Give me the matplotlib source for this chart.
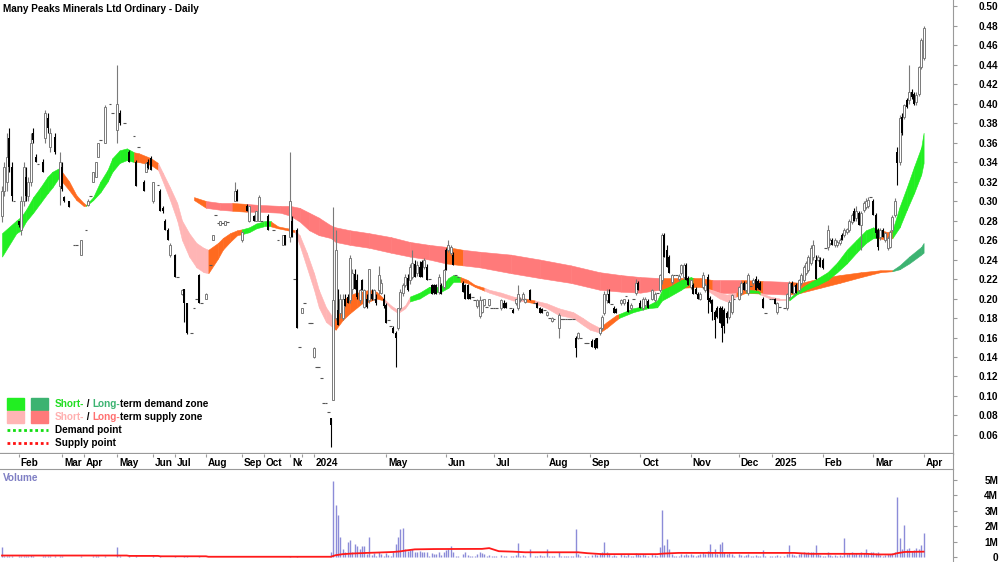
import numpy as np
import matplotlib
matplotlib.use("Agg")
import matplotlib.pyplot as plt
from matplotlib.patches import Rectangle
from matplotlib.lines import Line2D
from matplotlib.transforms import Bbox, TransformedBbox, blended_transform_factory

plt.rcParams['font.family'] = ['Liberation Sans', 'DejaVu Sans']

# Barras diárias em centavos: (abertura, máxima, mínima, fecho, volume em M)
# (preço, volume) = barra sem amplitude, None = dia sem negócio
jan23 = [(28.5, 31.5, 27.8, 31.0, 0.65), (31.0, 34.0, 30.5, 33.5, 0.08), (32.0, 37.0, 31.0, 34.5, 0.10),
         (36.5, 37.5, 33.0, 33.5, 0.06), (33.5, 34.0, 30.0, 30.5, 0.07), (30.0, 0.02), None]
feb23 = [(28.0, 28.0, 27.3, 27.5, 0.05), (27.0, 30.5, 26.5, 30.0, 0.08), (30.0, 34.0, 29.5, 33.5, 0.10),
         (32.5, 33.5, 30.0, 30.5, 0.06), (30.5, 32.5, 30.0, 32.0, 0.05), (32.0, 37.0, 31.5, 36.0, 0.12),
         (37.0, 37.5, 36.0, 36.3, 0.04), (34.5, 34.8, 34.0, 34.0, 0.03), (33.8, 0.01), None,
         (34.0, 34.3, 33.0, 33.0, 0.04), (36.5, 39.3, 36.0, 39.0, 0.10), (38.5, 39.0, 37.0, 37.5, 0.06),
         (35.5, 37.5, 35.0, 37.0, 0.05), None, (36.6, 37.0, 34.8, 35.0, 0.05), None,
         (31.5, 35.0, 29.6, 34.0, 0.08)]
mar23 = [(33.5, 34.0, 31.0, 31.2, 0.05), (30.4, 30.5, 29.9, 30.0, 0.03), None,
         (30.0, 30.0, 29.4, 29.4, 0.03), None, (25.5, 0.02), (25.5, 0.01), None,
         (24.5, 26.0, 24.5, 26.0, 0.04)]
apr23 = [None, (27.0, 0.01), (29.6, 30.2, 29.5, 30.0, 0.03), (30.5, 0.01), (32.0, 33.0, 32.0, 33.0, 0.04),
         (32.5, 34.0, 32.5, 34.0, 0.05), (34.5, 36.0, 34.5, 36.0, 0.05), (36.3, 0.01), None,
         (36.0, 39.8, 36.0, 39.6, 0.08), None, (40.0, 0.01), (39.0, 0.01), None]
may23 = [(37.3, 44.0, 36.0, 40.0, 0.65), (39.0, 39.3, 37.8, 38.0, 0.06), None, (38.0, 0.01), None,
         (35.0, 35.2, 34.0, 34.0, 0.04), None, (36.7, 0.01), (34.0, 34.2, 31.5, 31.5, 0.05), (35.5, 0.01),
         None, (32.0, 32.2, 31.0, 31.0, 0.03), (33.0, 34.0, 33.0, 33.9, 0.03),
         (34.0, 34.3, 33.3, 33.4, 0.02), (34.4, 34.6, 33.2, 33.2, 0.03)]
jun23 = [(30.0, 32.0, 29.8, 32.0, 0.04), None, (31.6, 0.01), (31.0, 31.2, 29.0, 29.0, 0.04),
         (29.3, 29.5, 28.8, 29.0, 0.02), (28.0, 28.2, 27.0, 27.0, 0.03), (27.0, 27.2, 26.0, 26.0, 0.03),
         (24.5, 25.7, 24.3, 25.5, 0.03), None]
jul23 = [(24.5, 24.6, 22.2, 22.2, 0.04), (22.2, 0.01), None, (20.5, 21.0, 20.4, 20.9, 0.02),
         (21.0, 21.0, 17.6, 19.5, 0.05), (19.5, 19.5, 16.4, 16.5, 0.05), None, (16.5, 0.01),
         (19.0, 0.01), (20.0, 0.01), (22.4, 22.5, 19.5, 19.5, 0.04), (19.5, 0.01), None]
aug23 = [(20.0, 20.6, 19.9, 20.5, 0.02), None, (23.4, 0.01), (26.0, 26.5, 26.0, 26.5, 0.02), (28.6, 0.01),
         (27.7, 0.01), (27.5, 28.0, 27.5, 28.0, 0.01), (27.7, 0.01), (27.5, 28.0, 27.5, 28.0, 0.01),
         (27.8, 0.01), None, None, (30.0, 32.0, 30.0, 31.0, 0.03), (31.0, 31.2, 30.0, 30.0, 0.02), None]
sep23 = [(26.0, 26.8, 25.8, 26.8, 0.03), None, (29.5, 29.7, 29.0, 29.0, 0.02),
         (28.0, 29.5, 27.8, 29.5, 0.02), None, (28.5, 28.6, 28.0, 28.0, 0.02),
         (28.0, 29.0, 28.0, 29.0, 0.02), (28.0, 30.6, 28.0, 30.4, 0.03), (28.0, 0.01)]
oct23 = [None, None, (28.5, 28.7, 27.0, 27.0, 0.02), None, (27.0, 0.01), None, (26.0, 0.01), None,
         (25.5, 26.5, 25.5, 26.5, 0.02), (26.5, 26.5, 25.5, 25.5, 0.02), None]
nov23 = [(26.3, 35.0, 25.8, 30.0, 0.05), (28.0, 28.5, 26.3, 26.3, 0.03), (22.0, 0.01),
         (27.0, 27.2, 17.0, 17.0, 0.05), (15.0, 0.01)]
dec23 = [(18.5, 19.0, 18.5, 19.0, 0.02), (19.5, 0.01), None, (17.5, 0.01), (17.5, 0.01)]
jan24 = [(14.0, 15.0, 13.9, 14.9, 0.02), (13.0, 0.01), (13.0, 0.01), (11.8, 0.01), (9.3, 0.01),
         (9.3, 0.01), (8.4, 0.01), (7.7, 7.7, 4.8, 7.0, 0.30), (9.6, 29.4, 9.6, 19.8, 4.95),
         (18.0, 27.0, 17.8, 25.0, 3.40), (18.8, 21.0, 17.3, 17.3, 2.70), (18.5, 20.5, 18.0, 20.0, 1.30),
         (18.0, 20.5, 17.8, 20.0, 0.50), (20.0, 20.5, 19.2, 19.2, 0.30), (20.2, 20.5, 19.5, 19.5, 1.00),
         (19.8, 24.5, 19.5, 24.2, 1.10), (21.0, 23.0, 20.5, 22.6, 0.30), (22.5, 23.0, 21.0, 21.0, 0.85),
         (21.9, 22.5, 20.0, 20.2, 0.70), (19.8, 21.0, 19.5, 20.9, 0.55), (21.9, 22.0, 20.9, 20.9, 0.70),
         (19.1, 21.0, 19.0, 20.9, 0.70), (20.0, 20.5, 19.0, 19.1, 0.20), (19.8, 23.0, 19.5, 23.0, 1.27),
         (20.5, 21.0, 19.8, 20.0, 0.15), (20.0, 21.0, 19.8, 20.9, 0.25), (20.0, 20.5, 19.3, 19.5, 0.10),
         (20.9, 23.3, 20.5, 22.4, 0.30), (20.6, 22.0, 20.5, 21.6, 0.20), (20.0, 20.5, 19.0, 19.2, 0.10)]
may24 = [(19.3, 19.5, 17.5, 17.5, 0.25), (17.8, 0.15), (17.2, 0.10), (17.0, 17.2, 16.5, 16.5, 0.30),
         (16.5, 16.7, 13.0, 16.0, 0.85), (17.0, 19.0, 16.8, 19.0, 1.30), (19.0, 21.0, 18.8, 20.7, 1.85),
         (20.6, 21.6, 20.3, 21.4, 1.90), (21.4, 22.5, 21.2, 22.2, 0.50), (22.1, 22.5, 20.8, 20.9, 0.40),
         (21.9, 23.5, 21.5, 23.2, 0.45), (22.2, 25.0, 22.0, 23.6, 0.50), (23.5, 24.0, 22.2, 22.2, 0.35),
         (22.6, 23.8, 22.3, 23.4, 0.30), (23.2, 23.8, 22.2, 22.2, 0.40), (23.7, 24.0, 22.2, 22.2, 0.30),
         (23.2, 24.2, 23.0, 24.0, 0.35), (23.2, 23.5, 21.9, 21.9, 0.30), (22.0, 0.10),
         (21.4, 21.5, 20.5, 20.5, 0.25), (21.4, 21.5, 20.5, 20.6, 0.20), (21.4, 21.5, 20.5, 20.5, 0.20),
         (20.7, 22.5, 20.5, 22.2, 0.30), (21.4, 21.6, 20.5, 20.5, 0.15), (21.2, 23.0, 21.0, 22.9, 0.30)]
jun24 = [(25.0, 25.2, 22.9, 22.9, 0.45), (25.0, 26.0, 24.8, 25.5, 0.50), (24.7, 25.5, 24.5, 25.3, 0.70),
         (24.5, 24.8, 23.4, 23.4, 0.35), (22.4, 0.10), (22.2, 0.10), None, (21.6, 21.8, 20.7, 20.7, 0.20),
         (21.4, 21.5, 20.0, 20.0, 0.30), (21.4, 21.5, 20.0, 20.0, 0.15), (20.5, 20.6, 20.0, 20.0, 0.10),
         (20.2, 0.05), (19.8, 0.05), (19.2, 20.0, 19.0, 19.8, 0.20), (18.2, 20.3, 18.0, 19.8, 0.30),
         (18.6, 20.0, 18.5, 19.8, 0.25), (19.3, 20.0, 19.2, 20.0, 0.20), (19.1, 0.05),
         (19.3, 20.0, 19.2, 20.0, 0.15), (19.0, 0.05)]
jul24 = [(19.0, 0.05), (19.0, 0.05), None, (19.0, 20.0, 18.8, 19.8, 0.15), (19.5, 19.8, 19.0, 19.0, 0.10),
         (19.5, 19.6, 19.0, 19.0, 0.10), None, (19.0, 0.05), (18.8, 19.0, 18.5, 18.5, 0.10),
         (19.5, 20.0, 19.3, 20.0, 0.15), (19.0, 21.4, 18.8, 20.5, 0.90), (19.8, 20.2, 19.6, 20.0, 0.10),
         (20.0, 20.7, 19.8, 20.5, 0.15), (19.6, 20.0, 19.5, 19.9, 0.10), None,
         (20.9, 21.0, 19.8, 19.8, 0.55), None, (19.5, 0.05), (19.5, 19.6, 19.0, 19.0, 0.10),
         (19.0, 19.1, 18.5, 18.5, 0.15), (18.9, 19.0, 18.5, 18.5, 0.10), (18.8, 0.05)]
aug24 = [(18.3, 18.7, 18.2, 18.6, 0.50), (18.0, 0.05), (17.7, 18.1, 17.6, 18.0, 0.10), (17.9, 0.05), None,
         (17.0, 18.5, 16.0, 18.3, 0.30), (17.9, 0.05), (17.9, 0.05), (17.9, 0.05), (17.9, 0.05),
         (17.9, 0.05), (17.9, 0.05), (16.0, 16.2, 14.0, 14.9, 1.80), (16.0, 16.6, 15.8, 16.5, 0.20),
         (16.0, 0.05), None, (15.4, 0.05), (15.4, 0.05)]
sep24 = [None, (15.6, 15.8, 15.0, 15.0, 0.15), (15.7, 16.0, 14.8, 14.9, 0.20), (15.9, 16.0, 14.9, 14.9, 0.15),
         (16.5, 17.0, 16.3, 17.0, 0.25), (17.0, 18.3, 16.8, 18.1, 0.30), (18.5, 20.8, 18.3, 20.5, 0.95),
         (19.8, 21.0, 19.5, 20.5, 0.30), (20.5, 21.0, 19.5, 19.5, 0.20), (19.4, 0.05),
         (19.0, 19.2, 18.5, 18.5, 0.15), (18.9, 19.0, 18.5, 18.5, 0.10), None,
         (19.5, 20.0, 19.3, 19.8, 0.20), (19.5, 20.0, 19.3, 20.0, 0.15), (20.3, 0.05),
         (19.6, 20.0, 18.6, 18.6, 0.20), (19.0, 19.5, 18.8, 19.3, 0.10), (20.0, 0.05),
         (20.6, 22.0, 20.4, 21.6, 0.25), (21.6, 21.8, 20.9, 20.9, 0.20)]
oct24 = [(19.5, 19.8, 19.0, 19.0, 0.15), (19.0, 20.2, 18.8, 20.0, 0.20), (19.3, 20.2, 19.2, 20.0, 0.15),
         (19.7, 20.0, 19.0, 19.0, 0.10), None, (20.0, 21.0, 19.8, 20.9, 0.20), (19.8, 20.7, 19.6, 20.5, 0.15),
         (20.6, 0.05), (20.9, 22.5, 20.7, 22.4, 0.65), (21.9, 26.7, 21.5, 26.5, 3.05),
         (26.5, 26.7, 24.3, 24.3, 0.75), (25.0, 25.5, 23.2, 23.2, 1.20), (24.3, 24.5, 22.6, 22.6, 0.50),
         (21.7, 22.5, 21.5, 22.4, 0.20), (22.4, 0.05), (22.4, 0.05), (22.0, 22.5, 21.8, 22.3, 0.10),
         (22.6, 23.5, 22.4, 23.4, 0.20), (22.2, 23.6, 22.0, 23.4, 0.15), (23.4, 23.6, 21.9, 21.9, 0.20),
         (22.1, 22.3, 21.4, 21.4, 0.15)]
nov24 = [(21.2, 22.0, 21.0, 21.9, 0.20), (21.4, 21.6, 20.5, 20.5, 0.15), (21.0, 21.2, 20.5, 20.5, 0.10),
         (20.5, 20.7, 20.0, 20.0, 0.15), (20.0, 20.7, 19.8, 20.5, 0.20), (21.2, 22.7, 21.0, 22.4, 0.30),
         (20.9, 21.6, 20.7, 21.4, 0.20), (22.2, 22.5, 18.5, 19.8, 0.40), (20.1, 20.3, 19.5, 19.6, 0.85),
         (19.8, 20.0, 17.8, 18.6, 0.30), (18.6, 18.8, 16.0, 17.8, 0.50), (19.0, 19.2, 18.0, 18.1, 0.20),
         (19.0, 19.2, 17.5, 17.5, 0.85), (19.0, 19.2, 15.5, 17.0, 1.00), (18.8, 19.0, 16.5, 17.2, 0.30),
         (18.5, 18.7, 17.5, 18.0, 0.20), (18.1, 19.8, 17.9, 19.6, 0.25), (18.6, 20.5, 18.4, 20.4, 0.20),
         (20.0, 0.05), None]
dec24 = [(20.0, 21.3, 19.8, 21.2, 0.20), (20.6, 21.8, 20.4, 21.6, 0.15), (21.6, 21.8, 20.9, 20.9, 0.10),
         (20.9, 21.7, 20.7, 21.6, 0.15), (20.6, 22.6, 20.4, 22.4, 0.20), (21.3, 0.05),
         (21.6, 22.1, 21.4, 21.9, 0.10), (22.0, 22.3, 20.9, 20.9, 0.15), (21.8, 22.0, 21.0, 21.1, 0.10),
         (21.6, 21.8, 20.9, 20.9, 0.10), (20.0, 20.2, 19.0, 19.0, 0.45), (18.5, 0.05), None, (20.0, 0.05)]
jan25 = [(20.0, 0.05), (20.0, 20.1, 19.4, 19.4, 0.10), (18.6, 19.6, 18.4, 19.5, 0.15), (19.1, 0.05), None,
         (19.0, 0.05), (19.0, 20.6, 18.8, 20.5, 0.20), (20.2, 21.8, 20.0, 21.6, 0.80),
         (21.6, 21.8, 20.6, 20.6, 0.20), (20.6, 21.4, 20.4, 21.3, 0.15), (21.4, 21.6, 20.6, 20.6, 0.10),
         (20.9, 22.0, 20.7, 21.9, 0.20), (21.6, 22.6, 21.4, 22.4, 0.25), (21.9, 23.4, 21.7, 23.2, 0.30),
         (22.6, 23.8, 22.4, 23.6, 0.25), (22.9, 24.5, 22.7, 24.3, 0.30), (23.6, 25.5, 23.4, 25.2, 0.35),
         (24.3, 26.0, 24.0, 25.5, 0.30), (24.0, 24.5, 22.0, 22.0, 0.80), (24.0, 24.5, 23.8, 24.3, 0.20),
         (24.0, 24.3, 23.2, 23.2, 0.15)]
feb25 = [(23.9, 24.2, 23.0, 23.1, 0.10), (25.2, 0.05), (25.3, 27.5, 25.0, 27.0, 0.30),
         (25.7, 26.2, 25.5, 26.0, 0.15), (26.0, 26.2, 25.5, 25.5, 0.10), (25.5, 26.2, 25.3, 26.0, 0.15),
         (25.5, 26.0, 25.3, 25.8, 0.10), (25.7, 26.2, 25.5, 26.0, 0.15), (26.5, 26.7, 26.0, 26.0, 0.10),
         (26.5, 27.2, 26.3, 27.0, 1.25), (26.8, 27.2, 26.6, 27.1, 0.20), (27.0, 28.2, 26.8, 28.0, 0.25),
         (27.8, 28.8, 27.6, 28.6, 0.30), (29.0, 29.3, 28.0, 28.0, 0.20), (28.3, 29.5, 28.0, 29.0, 0.25),
         (28.8, 29.0, 27.5, 27.5, 0.20), (27.5, 29.0, 25.0, 28.8, 0.30), (29.1, 30.0, 28.9, 29.8, 0.25),
         (29.4, 30.3, 29.2, 30.0, 0.50), (29.5, 30.4, 29.3, 30.1, 0.20), (30.4, 0.35)]
mar25 = [(30.0, 30.2, 28.6, 28.6, 0.30), (28.6, 28.8, 26.2, 26.7, 0.25), (27.0, 27.2, 25.0, 25.3, 0.30),
         (26.3, 27.2, 26.0, 27.0, 0.15), (27.0, 27.2, 26.3, 26.3, 0.10), (26.0, 26.8, 25.8, 26.7, 0.15),
         (25.2, 26.4, 25.0, 26.2, 0.20), (25.3, 27.0, 25.2, 26.8, 0.20), (27.0, 28.6, 26.8, 28.4, 0.25),
         (28.6, 30.3, 28.4, 30.0, 0.30), (35.0, 35.5, 31.6, 33.9, 3.90), (34.0, 38.8, 33.7, 38.5, 1.25),
         (38.6, 39.0, 36.8, 37.0, 0.50), (38.6, 40.0, 38.4, 39.8, 2.05), (40.4, 40.6, 39.5, 39.6, 0.50),
         (40.4, 44.0, 40.0, 41.2, 0.60), (41.2, 41.5, 40.5, 40.7, 0.40), (41.0, 41.2, 39.8, 40.0, 0.45),
         (40.2, 41.2, 39.8, 40.9, 0.60), (41.0, 43.9, 40.8, 43.7, 0.55), (43.7, 46.7, 43.5, 46.5, 0.75)]
apr25 = [(44.7, 48.0, 44.5, 47.7, 1.55)]

months = [("", jan23), ("Feb", feb23), ("Mar", mar23), ("Apr", apr23), ("May", may23), ("Jun", jun23),
          ("Jul", jul23), ("Aug", aug23), ("Sep", sep23), ("Oct", oct23), ("Nov", nov23), ("", dec23),
          ("2024", jan24), ("May", may24), ("Jun", jun24), ("Jul", jul24), ("Aug", aug24), ("Sep", sep24),
          ("Oct", oct24), ("Nov", nov24), ("Dec", dec24), ("2025", jan25), ("Feb", feb25), ("Mar", mar25),
          ("Apr", apr25)]

# Faixa de curto prazo (barra, mínimo, máximo em centavos, zona)
st_bar = [0, 6, 8, 10, 13, 16, 19, 21, 24, 25,
          28, 31, 34, 35, 38, 41, 44, 46, 49, 52,
          55, 57, 62, 65, 67, 70, 73, 75, 78, 81,
          84, 86, 90, 92, 95, 98, 100, 103, 106, 109,
          112, 115, 119, 122, 124, 127, 130, 132, 135, 138,
          139, 142, 145, 148, 150, 153, 156, 159, 162, 165,
          168, 170, 174, 178, 183, 186, 188, 191, 194, 197,
          201, 203, 208, 213, 218, 222, 227, 232, 238, 242,
          245, 249, 252, 256, 257, 263, 269, 273, 275, 278,
          283, 287, 288, 290, 292, 294, 299, 302, 306, 310,
          315, 316, 320, 324, 328, 331, 335, 340, 344, 348,
          352, 356, 360, 363, 365, 369, 371, 374, 377, 380,
          383, 384]
st_lo = [24.3, 26.7, 27.0, 27.9, 28.8, 29.8, 30.8, 31.4, 32.5, 32.0,
         31.1, 30.1, 29.5, 29.5, 30.1, 30.9, 32.0, 33.0, 33.9, 34.2,
         34.0, 34.0, 33.7, 33.2, 32.0, 30.1, 28.0, 26.0, 24.3, 23.2,
         22.7, 22.6, 24.1, 25.0, 25.8, 26.5, 26.6, 26.8, 27.2, 27.4,
         27.4, 27.2, 27.0, 26.8, 25.5, 23.2, 20.9, 19.1, 17.6, 17.0,
         16.8, 17.8, 18.5, 19.1, 19.5, 19.7, 20.0, 19.8, 19.0, 18.5,
         19.0, 19.7, 20.0, 20.6, 20.7, 21.1, 21.7, 21.7, 21.6, 21.2,
         20.8, 20.6, 20.2, 19.8, 19.7, 19.5, 19.0, 18.3, 18.0, 17.3,
         16.8, 16.5, 17.0, 17.8, 18.0, 18.6, 19.0, 19.1, 19.8, 20.2,
         20.9, 21.6, 21.6, 21.4, 21.1, 20.8, 20.0, 19.7, 20.2, 20.6,
         20.6, 20.4, 20.0, 19.8, 19.8, 20.4, 20.9, 21.4, 21.9, 22.7,
         23.6, 24.7, 25.7, 26.2, 26.2, 26.0, 26.2, 27.3, 29.1, 30.8,
         32.7, 33.9]
st_hi = [26.7, 28.0, 28.4, 29.1, 30.4, 31.4, 32.5, 33.0, 33.4, 33.0,
         32.0, 30.6, 29.8, 29.6, 30.4, 32.0, 33.2, 34.4, 35.2, 35.4,
         35.0, 34.9, 34.4, 33.9, 32.9, 31.4, 29.8, 28.0, 26.7, 25.7,
         25.2, 25.0, 25.7, 26.2, 26.7, 27.0, 27.1, 27.3, 27.7, 27.9,
         27.9, 27.4, 27.2, 27.0, 26.5, 24.7, 22.6, 20.9, 19.1, 18.0,
         19.8, 19.8, 20.4, 20.6, 20.7, 20.9, 20.7, 20.0, 19.3, 18.8,
         19.3, 20.2, 20.6, 21.2, 21.2, 22.1, 22.4, 22.2, 21.9, 21.4,
         21.1, 20.9, 20.6, 20.2, 20.0, 19.8, 19.5, 19.0, 18.6, 18.0,
         17.5, 17.0, 17.6, 18.3, 18.4, 19.0, 19.3, 19.8, 20.9, 21.2,
         21.9, 22.2, 22.1, 21.9, 21.4, 21.0, 20.6, 20.4, 20.6, 20.9,
         20.8, 20.6, 20.2, 20.0, 20.0, 20.7, 21.4, 22.1, 22.7, 23.7,
         25.0, 26.0, 27.0, 27.3, 27.1, 26.8, 27.0, 29.4, 31.4, 33.5,
         35.5, 37.0]
st_zone = ("GGGGGGGGOO" "OOOGGGGGGG" "OOOPPPPPPP" "POOOOOGGGG" "OOOPPPPPPO" "OOOOOOOPPP"
           "PGGGGGGOOO" "PPPPOPPPPP" "POOOGGGGGG" "GGOOOPPPOG" "GPPPGGGGGG" "GGGGOOGGGG" "GG")

# Faixa de longo prazo
lt_bar = [80, 85, 91, 96, 102, 107, 116, 120, 124, 128,
          132, 137, 139, 145, 153, 162, 170, 178, 185, 192,
          199, 212, 224, 237, 249, 258, 266, 274, 283, 291,
          296, 299, 308, 317, 328, 333, 341, 349, 358, 366,
          371, 374, 378, 383, 384]
lt_lo = [30.1, 29.3, 29.1, 29.0, 28.9, 28.9, 28.8, 28.5, 27.9, 27.0,
         26.5, 26.2, 25.8, 25.5, 25.2, 24.7, 24.3, 24.0, 23.6, 23.4,
         23.2, 22.6, 22.1, 21.6, 20.9, 20.7, 20.6, 20.9, 21.1, 21.2,
         20.9, 20.6, 20.6, 20.5, 20.4, 20.6, 21.1, 21.6, 22.2, 22.7,
         22.8, 23.0, 23.6, 24.5, 24.7]
lt_hi = [30.4, 30.0, 29.8, 29.8, 29.7, 29.6, 29.5, 29.5, 29.3, 28.8,
         28.3, 27.5, 27.3, 27.0, 26.7, 26.3, 25.8, 25.5, 25.3, 25.0,
         24.8, 24.5, 24.0, 23.4, 22.7, 22.4, 22.2, 22.1, 22.1, 22.1,
         21.9, 21.9, 21.9, 21.8, 21.7, 21.6, 22.1, 22.4, 22.7, 22.9,
         22.9, 23.4, 24.3, 25.3, 25.7]
lt_zone = "OSSOSSSSSS" "SSSSSSSSOS" "SSSSSSSOOO" "SSOSOOOOOO" "DDDDD"

# Média do volume (barra, milhões)
vol_avg_bar = [0, 52, 53, 65, 66, 85, 86, 137, 138, 139,
               142, 146, 152, 156, 163, 166, 168, 172, 180, 200,
               203, 205, 207, 213, 218, 240, 244, 250, 273, 276,
               282, 330, 337, 360, 365, 371, 373, 376, 384]
vol_avg_val = [0.10, 0.10, 0.075, 0.075, 0.05, 0.05, 0.02, 0.02, 0.07, 0.12,
               0.19, 0.23, 0.27, 0.29, 0.33, 0.37, 0.42, 0.50, 0.52, 0.53,
               0.58, 0.48, 0.38, 0.35, 0.31, 0.31, 0.25, 0.19, 0.19, 0.23,
               0.27, 0.27, 0.21, 0.21, 0.17, 0.17, 0.25, 0.33, 0.35]

price_ticks = [0.06, 0.08, 0.10, 0.12, 0.14, 0.16, 0.18, 0.20, 0.22, 0.24, 0.26, 0.28,
               0.30, 0.32, 0.34, 0.36, 0.38, 0.40, 0.42, 0.44, 0.46, 0.48, 0.50]
vol_ticks = [0, 1, 2, 3, 4, 5]
vol_tick_labels = ["0", "1M", "2M", "3M", "4M", "5M"]

zone_color = {'G': '#22EE22', 'P': '#FFB5B5', 'O': '#FF6A1F', 'S': '#FF7A7A', 'D': '#3CB371'}

# montar as séries
bars_all = []
tick_pos = []
tick_lab = []
for lab, m in months:
    if len(bars_all) > 0:
        tick_pos.append(len(bars_all))
        tick_lab.append(lab)
    bars_all.extend(m)

n = len(bars_all)
o = np.full(n, np.nan); h = np.full(n, np.nan); l = np.full(n, np.nan); c = np.full(n, np.nan)
v = np.zeros(n)
for i, b in enumerate(bars_all):
    if b is None:
        continue
    if len(b) == 2:
        o[i] = h[i] = l[i] = c[i] = b[0]
        v[i] = b[1]
    else:
        o[i], h[i], l[i], c[i], v[i] = b
o, h, l, c = o / 100, h / 100, l / 100, c / 100
idx = np.arange(n)

W, H = 1000, 562
fig = plt.figure(figsize=(10, 5.62), dpi=100)
xmin, xmax = -0.83, 396.25

ax = fig.add_axes([0, 1 - 454 / H, 953 / W, 454 / H])
ax_s = fig.add_axes([0, 1 - 469 / H, 953 / W, 15 / H])
ax_v = fig.add_axes([0, 0, 953 / W, 93 / H])

grey = '#9A9A9A'

# faixas
def draw_band(bx, lo, hi, zones, z):
    bx = np.array(bx, float)
    lo = np.array(lo) / 100
    hi = np.array(hi) / 100
    for k in range(len(bx) - 1):
        col = zone_color[zones[k]]
        ax.fill_between(bx[k:k + 2], lo[k:k + 2], hi[k:k + 2], facecolor=col, edgecolor=col,
                        lw=0.4, zorder=z)

draw_band(lt_bar, lt_lo, lt_hi, lt_zone, 1)
draw_band(st_bar, st_lo, st_hi, st_zone, 2)

# velas
has = ~np.isnan(c)
flat = has & ((h - l) < 1e-6)
cand = has & ~flat
up = cand & (c >= o)
dn = cand & (c < o)
body_lo = np.minimum(o, c)
body_h = np.maximum(np.abs(c - o), 0.0012)
ax.vlines(idx[up], l[up], h[up], color='#7A7A7A', lw=0.8, zorder=3)
ax.vlines(idx[dn], l[dn], h[dn], color='black', lw=0.8, zorder=3)
ax.bar(idx[up], body_h[up], bottom=body_lo[up], width=0.8, facecolor='white',
       edgecolor='#7A7A7A', lw=0.7, zorder=4)
ax.bar(idx[dn], body_h[dn], bottom=body_lo[dn], width=0.8, color='black', lw=0, zorder=4)
ax.hlines(c[flat], idx[flat] - 0.6, idx[flat] + 0.6, color='#555555', lw=0.8, zorder=3)

ax.set_xlim(xmin, xmax)
ax.set_ylim(0.0405, 0.5062)
ax.yaxis.tick_right()
ax.set_yticks(price_ticks)
ax.set_yticklabels([f"{t:.2f}" for t in price_ticks])
ax.tick_params(axis='y', direction='out', length=3, color=grey, pad=29.5, labelsize=7.2)
for t in ax.get_yticklabels():
    t.set_horizontalalignment('right')
    t.set_fontweight('bold')
ax.set_xticks([])
for s in ['left', 'top']:
    ax.spines[s].set_visible(False)
ax.spines['right'].set_color(grey)
ax.spines['bottom'].set_color(grey)
ax.spines['bottom'].set_linewidth(1.6)

# faixa dos meses
ax_s.set_xlim(xmin, xmax)
ax_s.set_ylim(0, 1)
ax_s.set_yticks([])
ax_s.set_xticks(tick_pos)
ax_s.set_xticklabels([])
ax_s.xaxis.set_ticks_position('top')
ax_s.tick_params(axis='x', direction='in', length=2.5, color=grey, width=0.8)
for s in ['left', 'top', 'bottom']:
    ax_s.spines[s].set_visible(False)
ax_s.spines['right'].set_color(grey)
tr = blended_transform_factory(ax_s.transData, ax_s.transAxes)
for k, (pos, lab) in enumerate(zip(tick_pos, tick_lab)):
    end = tick_pos[k + 1] if k + 1 < len(tick_pos) else xmax
    t = ax_s.text(pos + 0.8, 0.42, lab, transform=tr, ha='left', va='center',
                  fontsize=7.2, fontweight='bold')
    t.set_clip_box(TransformedBbox(Bbox([[pos, 0], [end, 1]]), tr))
    t.set_clip_on(True)

# volume
ax_v.vlines(idx[v > 0], 0, v[v > 0], color='#8C8CD8', lw=1.0)
ax_v.plot(vol_avg_bar, vol_avg_val, color='#FF1A1A', lw=1.3)
ax_v.set_xlim(xmin, xmax)
ax_v.set_ylim(-0.32, 5.71)
ax_v.set_xticks([])
ax_v.yaxis.tick_right()
ax_v.set_yticks(vol_ticks)
ax_v.set_yticklabels(vol_tick_labels)
ax_v.tick_params(axis='y', direction='out', length=3, color=grey, pad=29.5, labelsize=7.2)
for t in ax_v.get_yticklabels():
    t.set_horizontalalignment('right')
    t.set_fontweight('bold')
for s in ['left', 'bottom']:
    ax_v.spines[s].set_visible(False)
ax_v.spines['right'].set_color(grey)
ax_v.spines['top'].set_color(grey)
ax_v.text(0.003, 0.9, "Volume", transform=ax_v.transAxes, color='#7F7FC4', fontsize=7.2,
          fontweight='bold', va='center')

# título
fig.text(3 / W, 1 - 9 / H, "Many Peaks Minerals Ltd Ordinary - Daily", fontsize=7.2,
         fontweight='bold', va='center')

# legenda
def fx(px):
    return px / W

def fy(py):
    return 1 - py / H

fig.add_artist(Rectangle((fx(7), fy(410)), 17 / W, 12 / H, transform=fig.transFigure,
                         color=zone_color['G']))
fig.add_artist(Rectangle((fx(31), fy(410)), 17 / W, 12 / H, transform=fig.transFigure,
                         color=zone_color['D']))
fig.add_artist(Rectangle((fx(7), fy(423)), 17 / W, 12 / H, transform=fig.transFigure,
                         color=zone_color['P']))
fig.add_artist(Rectangle((fx(31), fy(423)), 17 / W, 12 / H, transform=fig.transFigure,
                         color=zone_color['S']))
fig.add_artist(Line2D([fx(7), fx(48)], [fy(430), fy(430)], transform=fig.transFigure,
                      color='#11DD11', lw=2, linestyle=(0, (1, 1))))
fig.add_artist(Line2D([fx(7), fx(48)], [fy(443), fy(443)], transform=fig.transFigure,
                      color='#FF1010', lw=2, linestyle=(0, (1, 1))))

fig.canvas.draw()
rend = fig.canvas.get_renderer()

def colour_text(x, y, parts):
    for s, col in parts:
        t = fig.text(x, y, s, color=col, fontsize=7.2, fontweight='bold', va='center')
        x += t.get_window_extent(rend).width / fig.bbox.width

colour_text(fx(55), fy(404), [("Short-", '#22DD22'), (" / ", 'black'), ("Long-", '#3CB371'),
                              ("term demand zone", 'black')])
colour_text(fx(55), fy(417), [("Short-", '#FFB0B0'), (" / ", 'black'), ("Long-", '#FF7070'),
                              ("term supply zone", 'black')])
fig.text(fx(55), fy(430), "Demand point", fontsize=7.2, fontweight='bold', va='center')
fig.text(fx(55), fy(443), "Supply point", fontsize=7.2, fontweight='bold', va='center')

fig.savefig("out.png", dpi=100)
